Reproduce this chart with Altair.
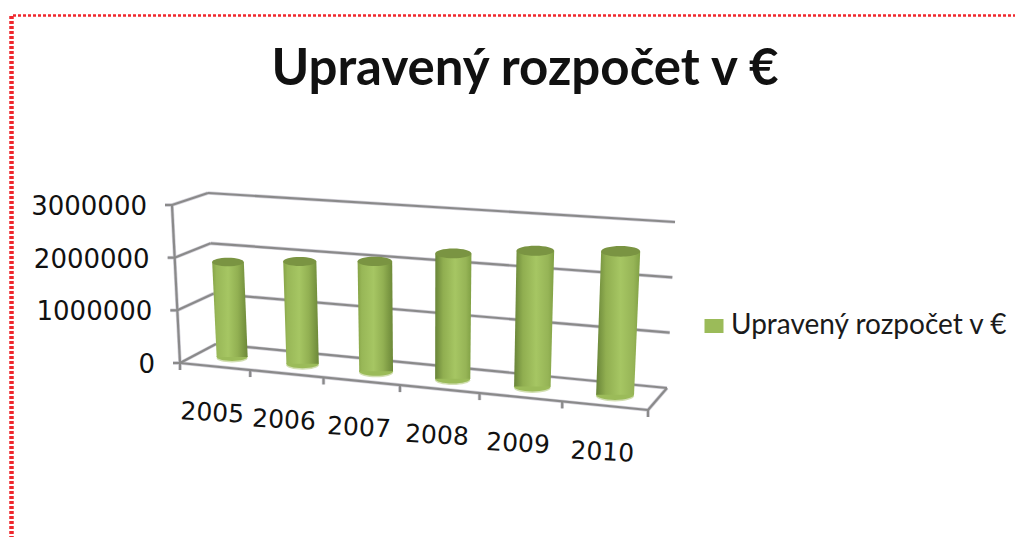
import altair as alt
import pandas as pd

years = ["2005", "2006", "2007", "2008", "2009", "2010"]
budget = [1830000, 1950000, 2060000, 2320000, 2480000, 2580000]
axis_ticks = [0, 1000000, 2000000, 3000000]
axis_labels = ["0", "1000000", "2000000", "3000000"]
series = "Upravený rozpočet v €"
title_text = "Upravený rozpočet v €"
V_MAX = 3000000
GREY = "#8a8a8a"

# corners of the 3D box as drawn: (front/back, bottom/top, left/right)
BOX = {
    "flb": (180, 363), "frb": (648, 410), "blb": (216, 344), "brb": (667, 388),
    "flt": (172, 205), "frt": (656, 240), "blt": (208, 193), "brt": (675, 222),
}


def warp(u):
    return 0.88 * u + 0.12 * u * u


def lerp(a, b, t):
    return (a[0] + (b[0] - a[0]) * t, a[1] + (b[1] - a[1]) * t)


def project(u, value, depth):
    t = warp(u)
    v = value / V_MAX
    fb = lerp(BOX["flb"], BOX["frb"], t)
    ft = lerp(BOX["flt"], BOX["frt"], t)
    bb = lerp(BOX["blb"], BOX["brb"], t)
    bt = lerp(BOX["blt"], BOX["brt"], t)
    front = lerp(fb, ft, v)
    back = lerp(bb, bt, v)
    return lerp(front, back, depth)


def seg(a, b):
    return {"x": a[0], "y": a[1], "x2": b[0], "y2": b[1]}


# frame lines
frame = []
for t in axis_ticks:
    frame.append(seg(project(0, t, 1), project(1, t, 1)))   # back wall
    frame.append(seg(project(0, t, 0), project(0, t, 1)))   # side wall
    a = project(0, t, 0)
    frame.append(seg((a[0] - 7, a[1]), a))                  # value tick
frame.append(seg(project(0, 0, 0), project(0, V_MAX, 0)))   # value axis
frame.append(seg(project(0, 0, 0), project(1, 0, 0)))       # front floor edge
frame.append(seg(project(1, 0, 0), project(1, 0, 1)))       # side floor edge
for i in range(7):
    a = project(i / 6, 0, 0)
    frame.append(seg(a, (a[0], a[1] + 7)))                  # category tick
frame_df = pd.DataFrame(frame)

# cylinders
HALF = 0.0375
body, tops, bases = [], [], []
for i, (yr, val) in enumerate(zip(years, budget)):
    u = (i + 0.5) / 6
    for level in (0, val):
        left = project(u - HALF, level, 0.5)
        right = project(u + HALF, level, 0.5)
        c = project(u, level, 0.5)
        body.append({"year": yr, "idx": i, "y": c[1], "x": left[0], "xr": right[0]})
    b = project(u, 0, 0.5)
    t = project(u, val, 0.5)
    bw = project(u + HALF, 0, 0.5)[0] - project(u - HALF, 0, 0.5)[0]
    tw = project(u + HALF, val, 0.5)[0] - project(u - HALF, val, 0.5)[0]
    bases.append({"year": yr, "x": b[0], "y": b[1], "s": bw * bw, "series": series})
    tops.append({"year": yr, "x": t[0], "y": t[1], "s": tw * tw})
body_df = pd.DataFrame(body)
tops_df = pd.DataFrame(tops)
bases_df = pd.DataFrame(bases)

# labels
year_df = pd.DataFrame(
    [{"t": yr, "x": project((i + 0.5) / 6, 0, 0)[0], "y": project((i + 0.5) / 6, 0, 0)[1]}
     for i, yr in enumerate(years)]
)
val_df = pd.DataFrame(
    [{"t": lab, "x": project(0, v, 0)[0], "y": project(0, v, 0)[1]}
     for v, lab in zip(axis_ticks, axis_labels)]
)
title_df = pd.DataFrame([{"t": title_text, "x": 525, "y": 70}])
border_df = pd.DataFrame([
    {"x": 13, "x2": 1015, "y": 15.5, "y2": 15.5, "w": 2.6},
    {"x": 11.5, "x2": 11.5, "y": 16, "y2": 537, "w": 4.5},
])

X = alt.X("x:Q", scale=alt.Scale(domain=[8, 1015], nice=False, zero=False), axis=None)
Y = alt.Y("y:Q", scale=alt.Scale(domain=[537, 8], nice=False, zero=False), axis=None)
ELLIPSE = "M-1,0 A1,0.27 0 1,0 1,0 A1,0.27 0 1,0 -1,0 Z"


def gradient(stops):
    return alt.Gradient(
        gradient="linear", x1=0, x2=1, y1=0, y2=0,
        stops=[alt.GradientStop(offset=o, color=c) for o, c in stops],
    )


dark_right = gradient([(0, "#86a346"), (0.12, "#98b757"), (0.45, "#a6c663"), (0.72, "#92b052"), (1, "#6c8838")])
dark_left = gradient([(0, "#688438"), (0.22, "#90ae50"), (0.55, "#a6c663"), (0.85, "#96b456"), (1, "#80a044")])

border = alt.Chart(border_df).mark_rule(color="#f0282e", strokeDash=[3, 2]).encode(
    x=X, x2="x2:Q", y=Y, y2="y2:Q", strokeWidth=alt.StrokeWidth("w:Q", scale=None)
)
frame_halo = alt.Chart(frame_df).mark_rule(color="#d4d2da", strokeWidth=3.6).encode(x=X, x2="x2:Q", y=Y, y2="y2:Q")
frame_lines = alt.Chart(frame_df).mark_rule(color=GREY, strokeWidth=2.2).encode(x=X, x2="x2:Q", y=Y, y2="y2:Q")

base_glow = alt.Chart(bases_df).mark_point(shape=ELLIPSE, filled=True, opacity=1, color="#d2dfb2", yOffset=1.5).encode(
    x=X, y=Y, size=alt.Size("s:Q", scale=None, legend=None), detail="year:N"
)
base = alt.Chart(bases_df).mark_point(shape=ELLIPSE, filled=True, opacity=1).encode(
    x=X, y=Y, size=alt.Size("s:Q", scale=None, legend=None),
    color=alt.Color(
        "series:N",
        scale=alt.Scale(domain=[series], range=["#9bbb59"]),
        legend=alt.Legend(
            title=None, orient="none", legendX=692, legendY=304, padding=0,
            symbolType="M-1,-0.74H1V0.74H-1Z", symbolSize=361, symbolOpacity=1,
            symbolStrokeWidth=0, labelFont="Lato", labelFontSize=28, labelColor="#1a1a1a",
            labelLimit=400, labelOffset=3,
        ),
    ),
)


def bodies(cond, grad):
    return alt.Chart(body_df).transform_filter(cond).mark_area(orient="horizontal", fill=grad, line=False, opacity=1).encode(
        y=Y, x=X, x2="xr:Q", detail="year:N"
    )


top = alt.Chart(tops_df).mark_point(shape=ELLIPSE, filled=True, opacity=1, color="#7a9442").encode(
    x=X, y=Y, size=alt.Size("s:Q", scale=None, legend=None), detail="year:N"
)

year_text = alt.Chart(year_df).mark_text(font="DejaVu Sans", fontSize=25, color="#111111", angle=3, dy=46.5, align="center", baseline="middle").encode(
    x=X, y=Y, text="t:N"
)
val_text = alt.Chart(val_df).mark_text(font="DejaVu Sans", fontSize=26, color="#111111", align="right", baseline="middle", dx=-25, dy=2).encode(
    x=X, y=Y, text="t:N"
)
title = alt.Chart(title_df).mark_text(font="Lato", fontWeight="bold", fontSize=51, color="#111111", align="center", baseline="middle").encode(
    x=X, y=Y, text="t:N"
)

chart = alt.layer(
    border, frame_halo, frame_lines, base_glow, base,
    bodies("datum.idx < 3", dark_right), bodies("datum.idx >= 3", dark_left),
    top, year_text, val_text, title,
).resolve_scale(size="independent").properties(
    width=1007, height=529, padding=0, autosize=alt.AutoSizeParams(type="none"), background="#ffffff"
).configure_view(stroke=None)

chart.save("out.html", embed_options={"renderer": "svg", "actions": False})
